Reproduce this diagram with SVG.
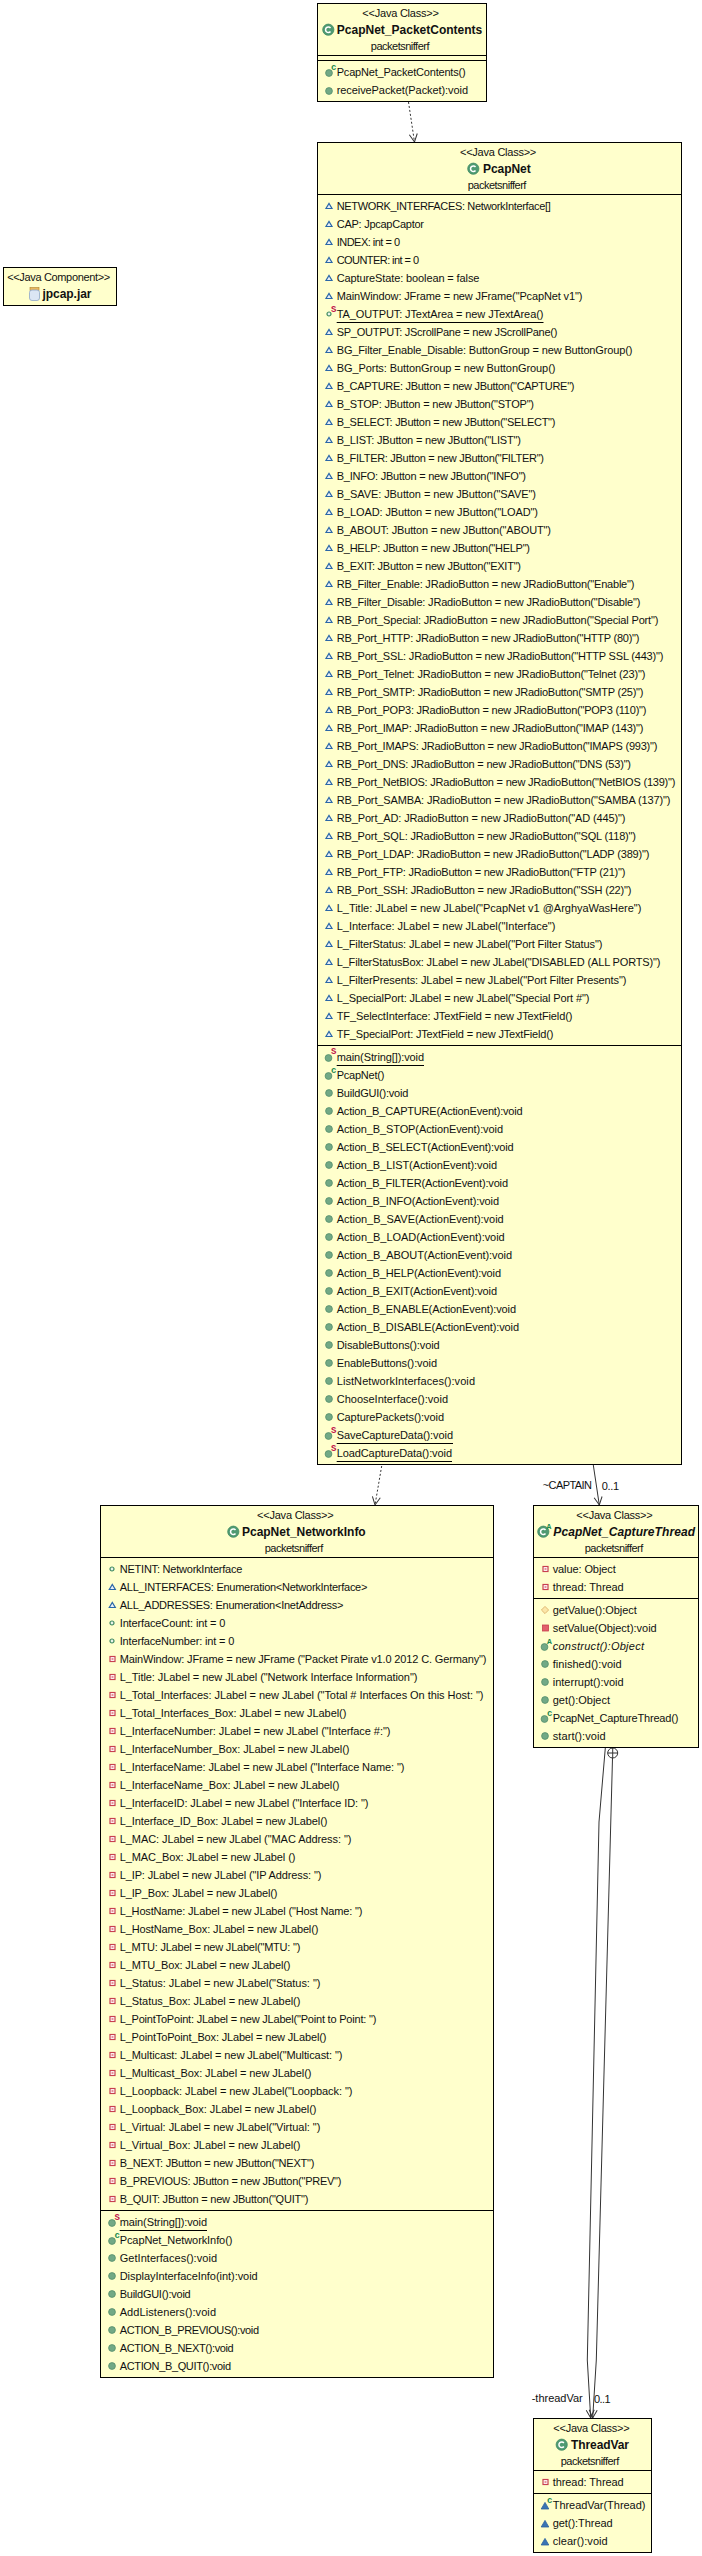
<svg xmlns="http://www.w3.org/2000/svg" width="702" height="2556" viewBox="0 0 702 2556">
<style>
text{font-family:"Liberation Sans",Arial,sans-serif;font-size:11px;fill:#111}
.n{font-size:12px;font-weight:bold}
.i{font-style:italic}
.b{fill:#ffffcc;stroke:#000;stroke-width:1}
.d{stroke:#000;stroke-width:1;fill:none}
.c{fill:none;stroke:#333;stroke-width:1}
.da{stroke-dasharray:2 2}
.sup{font-size:9px;font-family:"Liberation Mono",monospace;font-weight:bold}
</style>
<defs>
<marker id="arrow" markerUnits="userSpaceOnUse" markerWidth="12" markerHeight="12" viewBox="-10 -6 12 12" refX="0" refY="0" orient="auto"><path d="M-8,-4L0,0L-8,4" fill="none" stroke="#333" stroke-width="1"/></marker>
<g id="pkgF"><path d="M-3,2.5H3L0,-2.5Z" fill="#e8f0f8" stroke="#2b67a8" stroke-width="1.2"/></g>
<g id="pubF"><circle r="2" fill="#e8f4ea" stroke="#3f8a62" stroke-width="1.2"/></g>
<g id="priF"><rect x="-2.5" y="-2.5" width="5" height="5" fill="#fff" stroke="#c8404f" stroke-width="1.2"/><rect x="-1" y="-1" width="2" height="2" fill="#e8909a"/></g>
<g id="pubM"><circle r="3.4" fill="#72a986" stroke="#558f6c" stroke-width=".8"/></g>
<g id="pkgM"><path d="M-3.8,3H3.8L0,-3.6Z" fill="#3a74b4" stroke="#2b5f9e" stroke-width=".8"/></g>
<g id="proM"><path d="M-3.6,0L0,-3.6L3.6,0L0,3.6Z" fill="#fbe6a8" stroke="#d8a860" stroke-width=".8"/></g>
<g id="priM"><rect x="-3" y="-3" width="6" height="6" fill="#e2606c" stroke="#c8404f" stroke-width=".8"/></g>
<g id="cls"><circle r="5.6" fill="#4f9a72" stroke="#3f8a62" stroke-width=".8"/><path d="M2.2,-1.8A2.8,2.8 0 1 0 2.2,1.8" fill="none" stroke="#fff" stroke-width="1.5"/></g>
</defs>

<g id="connectors">
<path class="c da" d="M408.5,102L414.5,142" marker-end="url(#arrow)"/>
<path class="c da" d="M381.7,1466L375,1505" marker-end="url(#arrow)"/>
<path class="c" d="M593.3,1465L599.3,1505" marker-end="url(#arrow)"/>
<text x="542.7" y="1489" textLength="49.3">~CAPTAIN</text>
<text x="601.7" y="1490" textLength="17.3">0..1</text>
<path class="c" d="M605.3,1748L599,1822L587.3,2360L590.7,2418" marker-end="url(#arrow)"/>
<path class="c" d="M612.5,1758L596.3,2360L592.7,2418" marker-end="url(#arrow)"/>
<circle class="c" cx="612.7" cy="1753" r="5" fill="none"/>
<path class="c" d="M607.7,1753H617.7M612.7,1748V1758"/>
<text x="531.7" y="2402" textLength="51">-threadVar</text>
<text x="594" y="2403" textLength="16.7">0..1</text>
</g>

<g id="jpcap">
<rect class="b" x="3.5" y="267.5" width="113" height="38"/>
<text x="7.2" y="281" textLength="103">&lt;&lt;Java Component&gt;&gt;</text>
<rect x="30" y="287.5" width="9" height="3" fill="#e8b860" stroke="#b08030" stroke-width=".6"/>
<rect x="29.5" y="290" width="10" height="10.5" rx="2.5" fill="#dbe6f4" stroke="#8ea6c8" stroke-width=".8"/>
<text class="n" x="42.5" y="298" textLength="49">jpcap.jar</text>
</g>

<g id="PcapNet_PacketContents">
<rect class="b" x="317.5" y="3.5" width="169" height="98"/>
<path class="d" d="M317.5,55.5H486.5M317.5,60.5H486.5"/>
<text x="362.3" y="17" textLength="76.6">&lt;&lt;Java Class&gt;&gt;</text>
<use href="#cls" x="328.3" y="29.7"/>
<text class="n" x="336.8" y="34" textLength="145.5">PcapNet_PacketContents</text>
<text x="370.8" y="50" textLength="58.7">packetsnifferf</text>
<use href="#pubM" x="329" y="73"/><text class="sup" x="331" y="70" fill="#1a8a50" style="fill:#1a8a50">c</text>
<text x="336.7" y="76" textLength="129">PcapNet_PacketContents()</text>
<use href="#pubM" x="329" y="91"/>
<text x="336.7" y="94" textLength="131.3">receivePacket(Packet):void</text>
</g>

<g id="PcapNet">
<rect class="b" x="317.5" y="142.5" width="364" height="1322"/>
<path class="d" d="M317.5,194.5H681.5M317.5,1045.5H681.5"/>
<text x="460" y="156" textLength="76.3">&lt;&lt;Java Class&gt;&gt;</text>
<use href="#cls" x="473.3" y="168.7"/>
<text class="n" x="483" y="173" textLength="47.7">PcapNet</text>
<text x="467.7" y="189" textLength="58.7">packetsnifferf</text>
<g id="pn-icons">
<use href="#pkgF" x="329" y="206"/><use href="#pkgF" x="329" y="224"/><use href="#pkgF" x="329" y="242"/><use href="#pkgF" x="329" y="260"/><use href="#pkgF" x="329" y="278"/><use href="#pkgF" x="329" y="296"/><use href="#pubF" x="329" y="314"/><use href="#pkgF" x="329" y="332"/><use href="#pkgF" x="329" y="350"/><use href="#pkgF" x="329" y="368"/><use href="#pkgF" x="329" y="386"/><use href="#pkgF" x="329" y="404"/><use href="#pkgF" x="329" y="422"/><use href="#pkgF" x="329" y="440"/><use href="#pkgF" x="329" y="458"/><use href="#pkgF" x="329" y="476"/><use href="#pkgF" x="329" y="494"/><use href="#pkgF" x="329" y="512"/><use href="#pkgF" x="329" y="530"/><use href="#pkgF" x="329" y="548"/><use href="#pkgF" x="329" y="566"/><use href="#pkgF" x="329" y="584"/><use href="#pkgF" x="329" y="602"/><use href="#pkgF" x="329" y="620"/><use href="#pkgF" x="329" y="638"/><use href="#pkgF" x="329" y="656"/><use href="#pkgF" x="329" y="674"/><use href="#pkgF" x="329" y="692"/><use href="#pkgF" x="329" y="710"/><use href="#pkgF" x="329" y="728"/><use href="#pkgF" x="329" y="746"/><use href="#pkgF" x="329" y="764"/><use href="#pkgF" x="329" y="782"/><use href="#pkgF" x="329" y="800"/><use href="#pkgF" x="329" y="818"/><use href="#pkgF" x="329" y="836"/><use href="#pkgF" x="329" y="854"/><use href="#pkgF" x="329" y="872"/><use href="#pkgF" x="329" y="890"/><use href="#pkgF" x="329" y="908"/><use href="#pkgF" x="329" y="926"/><use href="#pkgF" x="329" y="944"/><use href="#pkgF" x="329" y="962"/><use href="#pkgF" x="329" y="980"/><use href="#pkgF" x="329" y="998"/><use href="#pkgF" x="329" y="1016"/><use href="#pkgF" x="329" y="1034"/>
<use href="#pubM" x="328.5" y="1058"/><use href="#pubM" x="328.5" y="1076"/><use href="#pubM" x="329" y="1093"/><use href="#pubM" x="329" y="1111"/><use href="#pubM" x="329" y="1129"/><use href="#pubM" x="329" y="1147"/><use href="#pubM" x="329" y="1165"/><use href="#pubM" x="329" y="1183"/><use href="#pubM" x="329" y="1201"/><use href="#pubM" x="329" y="1219"/><use href="#pubM" x="329" y="1237"/><use href="#pubM" x="329" y="1255"/><use href="#pubM" x="329" y="1273"/><use href="#pubM" x="329" y="1291"/><use href="#pubM" x="329" y="1309"/><use href="#pubM" x="329" y="1327"/><use href="#pubM" x="329" y="1345"/><use href="#pubM" x="329" y="1363"/><use href="#pubM" x="329" y="1381"/><use href="#pubM" x="329" y="1399"/><use href="#pubM" x="329" y="1417"/><use href="#pubM" x="328.5" y="1436"/><use href="#pubM" x="328.5" y="1454"/>
<text class="sup" x="331" y="312" style="fill:#c0104a">S</text><text class="sup" x="331" y="1054" style="fill:#c0104a">S</text><text class="sup" x="331" y="1073" style="fill:#1a8a50">c</text><text class="sup" x="331" y="1433" style="fill:#c0104a">S</text><text class="sup" x="331" y="1451" style="fill:#c0104a">S</text>
</g>
<path class="d" d="M336.7,322.5H543.5M336.7,1065.5H424M336.7,1443.5H453M336.7,1461.5H452"/>
<g id="pn-attrs">
<text x="336.7" y="210" textLength="214">NETWORK_INTERFACES: NetworkInterface[]</text>
<text x="336.7" y="228" textLength="87.3">CAP: JpcapCaptor</text>
<text x="336.7" y="246" textLength="63.3">INDEX: int = 0</text>
<text x="336.7" y="264" textLength="82.3">COUNTER: int = 0</text>
<text x="336.7" y="282" textLength="142.7">CaptureState: boolean = false</text>
<text x="336.7" y="300" textLength="245.7">MainWindow: JFrame = new JFrame("PcapNet v1")</text>
<text x="336.7" y="318" textLength="206.7">TA_OUTPUT: JTextArea = new JTextArea()</text>
<text x="336.7" y="336" textLength="220.7">SP_OUTPUT: JScrollPane = new JScrollPane()</text>
<text x="336.7" y="354" textLength="295.7">BG_Filter_Enable_Disable: ButtonGroup = new ButtonGroup()</text>
<text x="336.7" y="372" textLength="218.7">BG_Ports: ButtonGroup = new ButtonGroup()</text>
<text x="336.7" y="390" textLength="237.7">B_CAPTURE: JButton = new JButton("CAPTURE")</text>
<text x="336.7" y="408" textLength="197.3">B_STOP: JButton = new JButton("STOP")</text>
<text x="336.7" y="426" textLength="218.7">B_SELECT: JButton = new JButton("SELECT")</text>
<text x="336.7" y="444" textLength="184.3">B_LIST: JButton = new JButton("LIST")</text>
<text x="336.7" y="462" textLength="207.3">B_FILTER: JButton = new JButton("FILTER")</text>
<text x="336.7" y="480" textLength="189.3">B_INFO: JButton = new JButton("INFO")</text>
<text x="336.7" y="498" textLength="199.3">B_SAVE: JButton = new JButton("SAVE")</text>
<text x="336.7" y="516" textLength="201.3">B_LOAD: JButton = new JButton("LOAD")</text>
<text x="336.7" y="534" textLength="214.3">B_ABOUT: JButton = new JButton("ABOUT")</text>
<text x="336.7" y="552" textLength="193.3">B_HELP: JButton = new JButton("HELP")</text>
<text x="336.7" y="570" textLength="184.3">B_EXIT: JButton = new JButton("EXIT")</text>
<text x="336.7" y="588" textLength="297.7">RB_Filter_Enable: JRadioButton = new JRadioButton("Enable")</text>
<text x="336.7" y="606" textLength="303.7">RB_Filter_Disable: JRadioButton = new JRadioButton("Disable")</text>
<text x="336.7" y="624" textLength="321.7">RB_Port_Special: JRadioButton = new JRadioButton("Special Port")</text>
<text x="336.7" y="642" textLength="302.7">RB_Port_HTTP: JRadioButton = new JRadioButton("HTTP (80)")</text>
<text x="336.7" y="660" textLength="326.7">RB_Port_SSL: JRadioButton = new JRadioButton("HTTP SSL (443)")</text>
<text x="336.7" y="678" textLength="308.7">RB_Port_Telnet: JRadioButton = new JRadioButton("Telnet (23)")</text>
<text x="336.7" y="696" textLength="306.7">RB_Port_SMTP: JRadioButton = new JRadioButton("SMTP (25)")</text>
<text x="336.7" y="714" textLength="309.7">RB_Port_POP3: JRadioButton = new JRadioButton("POP3 (110)")</text>
<text x="336.7" y="732" textLength="306.7">RB_Port_IMAP: JRadioButton = new JRadioButton("IMAP (143)")</text>
<text x="336.7" y="750" textLength="320.7">RB_Port_IMAPS: JRadioButton = new JRadioButton("IMAPS (993)")</text>
<text x="336.7" y="768" textLength="294.3">RB_Port_DNS: JRadioButton = new JRadioButton("DNS (53)")</text>
<text x="336.7" y="786" textLength="338.7">RB_Port_NetBIOS: JRadioButton = new JRadioButton("NetBIOS (139)")</text>
<text x="336.7" y="804" textLength="333.7">RB_Port_SAMBA: JRadioButton = new JRadioButton("SAMBA (137)")</text>
<text x="336.7" y="822" textLength="288.7">RB_Port_AD: JRadioButton = new JRadioButton("AD (445)")</text>
<text x="336.7" y="840" textLength="299.3">RB_Port_SQL: JRadioButton = new JRadioButton("SQL (118)")</text>
<text x="336.7" y="858" textLength="312.7">RB_Port_LDAP: JRadioButton = new JRadioButton("LADP (389)")</text>
<text x="336.7" y="876" textLength="288.7">RB_Port_FTP: JRadioButton = new JRadioButton("FTP (21)")</text>
<text x="336.7" y="894" textLength="294.7">RB_Port_SSH: JRadioButton = new JRadioButton("SSH (22)")</text>
<text x="336.7" y="912" textLength="304.7">L_Title: JLabel = new JLabel("PcapNet v1  @ArghyaWasHere")</text>
<text x="336.7" y="930" textLength="218.7">L_Interface: JLabel = new JLabel("Interface")</text>
<text x="336.7" y="948" textLength="265.7">L_FilterStatus: JLabel = new JLabel("Port Filter Status")</text>
<text x="336.7" y="966" textLength="323.7">L_FilterStatusBox: JLabel = new JLabel("DISABLED (ALL PORTS)")</text>
<text x="336.7" y="984" textLength="289.7">L_FilterPresents: JLabel = new JLabel("Port Filter Presents")</text>
<text x="336.7" y="1002" textLength="252.7">L_SpecialPort: JLabel = new JLabel("Special Port #")</text>
<text x="336.7" y="1020" textLength="235.7">TF_SelectInterface: JTextField = new JTextField()</text>
<text x="336.7" y="1038" textLength="216.7">TF_SpecialPort: JTextField = new JTextField()</text>
</g>
<g id="pn-methods">
<text x="336.7" y="1061" textLength="87.3">main(String[]):void</text>
<text x="336.7" y="1079" textLength="47.7">PcapNet()</text>
<text x="336.7" y="1097" textLength="71.7">BuildGUI():void</text>
<text x="336.7" y="1115" textLength="186">Action_B_CAPTURE(ActionEvent):void</text>
<text x="336.7" y="1133" textLength="166.3">Action_B_STOP(ActionEvent):void</text>
<text x="336.7" y="1151" textLength="177">Action_B_SELECT(ActionEvent):void</text>
<text x="336.7" y="1169" textLength="160.3">Action_B_LIST(ActionEvent):void</text>
<text x="336.7" y="1187" textLength="171.3">Action_B_FILTER(ActionEvent):void</text>
<text x="336.7" y="1205" textLength="162.3">Action_B_INFO(ActionEvent):void</text>
<text x="336.7" y="1223" textLength="167">Action_B_SAVE(ActionEvent):void</text>
<text x="336.7" y="1241" textLength="168">Action_B_LOAD(ActionEvent):void</text>
<text x="336.7" y="1259" textLength="175.3">Action_B_ABOUT(ActionEvent):void</text>
<text x="336.7" y="1277" textLength="164.3">Action_B_HELP(ActionEvent):void</text>
<text x="336.7" y="1295" textLength="160.3">Action_B_EXIT(ActionEvent):void</text>
<text x="336.7" y="1313" textLength="179.3">Action_B_ENABLE(ActionEvent):void</text>
<text x="336.7" y="1331" textLength="182.3">Action_B_DISABLE(ActionEvent):void</text>
<text x="336.7" y="1349" textLength="103">DisableButtons():void</text>
<text x="336.7" y="1367" textLength="100.3">EnableButtons():void</text>
<text x="336.7" y="1385" textLength="138.3">ListNetworkInterfaces():void</text>
<text x="336.7" y="1403" textLength="111.3">ChooseInterface():void</text>
<text x="336.7" y="1421" textLength="107.3">CapturePackets():void</text>
<text x="336.7" y="1439" textLength="116.3">SaveCaptureData():void</text>
<text x="336.7" y="1457" textLength="115.3">LoadCaptureData():void</text>
</g>
</g>

<g id="PcapNet_NetworkInfo">
<rect class="b" x="100.5" y="1505.5" width="393" height="872"/>
<path class="d" d="M100.5,1557.5H493.5M100.5,2210.5H493.5"/>
<text x="257" y="1519" textLength="76.7">&lt;&lt;Java Class&gt;&gt;</text>
<use href="#cls" x="233.3" y="1531.7"/>
<text class="n" x="242" y="1536" textLength="123.7">PcapNet_NetworkInfo</text>
<text x="264.7" y="1552" textLength="58.6">packetsnifferf</text>
<g id="ni-icons">
<use href="#pubF" x="112" y="1569"/><use href="#pkgF" x="112.3" y="1587"/><use href="#pkgF" x="112.3" y="1605"/><use href="#pubF" x="112" y="1623"/><use href="#pubF" x="112" y="1641"/>
<use href="#priF" x="112.5" y="1659"/><use href="#priF" x="112.5" y="1677"/><use href="#priF" x="112.5" y="1695"/><use href="#priF" x="112.5" y="1713"/><use href="#priF" x="112.5" y="1731"/><use href="#priF" x="112.5" y="1749"/><use href="#priF" x="112.5" y="1767"/><use href="#priF" x="112.5" y="1785"/><use href="#priF" x="112.5" y="1803"/><use href="#priF" x="112.5" y="1821"/><use href="#priF" x="112.5" y="1839"/><use href="#priF" x="112.5" y="1857"/><use href="#priF" x="112.5" y="1875"/><use href="#priF" x="112.5" y="1893"/><use href="#priF" x="112.5" y="1911"/><use href="#priF" x="112.5" y="1929"/><use href="#priF" x="112.5" y="1947"/><use href="#priF" x="112.5" y="1965"/><use href="#priF" x="112.5" y="1983"/><use href="#priF" x="112.5" y="2001"/><use href="#priF" x="112.5" y="2019"/><use href="#priF" x="112.5" y="2037"/><use href="#priF" x="112.5" y="2055"/><use href="#priF" x="112.5" y="2073"/><use href="#priF" x="112.5" y="2091"/><use href="#priF" x="112.5" y="2109"/><use href="#priF" x="112.5" y="2127"/><use href="#priF" x="112.5" y="2145"/><use href="#priF" x="112.5" y="2163"/><use href="#priF" x="112.5" y="2181"/><use href="#priF" x="112.5" y="2199"/>
<use href="#pubM" x="112" y="2223"/><use href="#pubM" x="112" y="2241"/><use href="#pubM" x="112" y="2258"/><use href="#pubM" x="112" y="2276"/><use href="#pubM" x="112" y="2294"/><use href="#pubM" x="112" y="2312"/><use href="#pubM" x="112" y="2330"/><use href="#pubM" x="112" y="2348"/><use href="#pubM" x="112" y="2366"/>
<text class="sup" x="114.5" y="2220" style="fill:#c0104a">S</text><text class="sup" x="114.5" y="2238" style="fill:#1a8a50">c</text>
</g>
<path class="d" d="M119.7,2230.5H207"/>
<g id="ni-attrs">
<text x="119.7" y="1573" textLength="122.7">NETINT: NetworkInterface</text>
<text x="119.7" y="1591" textLength="247.7">ALL_INTERFACES: Enumeration&lt;NetworkInterface&gt;</text>
<text x="119.7" y="1609" textLength="223.7">ALL_ADDRESSES: Enumeration&lt;InetAddress&gt;</text>
<text x="119.7" y="1627" textLength="105.7">InterfaceCount: int = 0</text>
<text x="119.7" y="1645" textLength="114.7">InterfaceNumber: int = 0</text>
<text x="119.7" y="1663" textLength="366.7">MainWindow: JFrame = new JFrame ("Packet Pirate v1.0 2012 C. Germany")</text>
<text x="119.7" y="1681" textLength="297.7">L_Title: JLabel = new JLabel ("Network Interface Information")</text>
<text x="119.7" y="1699" textLength="363.7">L_Total_Interfaces: JLabel = new JLabel ("Total # Interfaces On this Host: ")</text>
<text x="119.7" y="1717" textLength="226.7">L_Total_Interfaces_Box: JLabel = new JLabel()</text>
<text x="119.7" y="1735" textLength="270.7">L_InterfaceNumber: JLabel = new JLabel ("Interface #:")</text>
<text x="119.7" y="1753" textLength="229.7">L_InterfaceNumber_Box: JLabel = new JLabel()</text>
<text x="119.7" y="1771" textLength="284.7">L_InterfaceName: JLabel = new JLabel ("Interface Name: ")</text>
<text x="119.7" y="1789" textLength="219.7">L_InterfaceName_Box: JLabel = new JLabel()</text>
<text x="119.7" y="1807" textLength="248.7">L_InterfaceID: JLabel = new JLabel ("Interface ID: ")</text>
<text x="119.7" y="1825" textLength="207.7">L_Interface_ID_Box: JLabel = new JLabel()</text>
<text x="119.7" y="1843" textLength="231.7">L_MAC: JLabel = new JLabel ("MAC Address: ")</text>
<text x="119.7" y="1861" textLength="175.7">L_MAC_Box: JLabel = new JLabel ()</text>
<text x="119.7" y="1879" textLength="201.7">L_IP: JLabel = new JLabel ("IP Address: ")</text>
<text x="119.7" y="1897" textLength="157.7">L_IP_Box: JLabel = new JLabel()</text>
<text x="119.7" y="1915" textLength="242.7">L_HostName: JLabel = new JLabel ("Host Name: ")</text>
<text x="119.7" y="1933" textLength="198.7">L_HostName_Box: JLabel = new JLabel()</text>
<text x="119.7" y="1951" textLength="180.7">L_MTU: JLabel = new JLabel("MTU: ")</text>
<text x="119.7" y="1969" textLength="170.7">L_MTU_Box: JLabel = new JLabel()</text>
<text x="119.7" y="1987" textLength="200.7">L_Status: JLabel = new JLabel("Status: ")</text>
<text x="119.7" y="2005" textLength="180.7">L_Status_Box: JLabel = new JLabel()</text>
<text x="119.7" y="2023" textLength="256.7">L_PointToPoint: JLabel = new JLabel("Point to Point: ")</text>
<text x="119.7" y="2041" textLength="206.7">L_PointToPoint_Box: JLabel = new JLabel()</text>
<text x="119.7" y="2059" textLength="222.7">L_Multicast: JLabel = new JLabel("Multicast: ")</text>
<text x="119.7" y="2077" textLength="191.7">L_Multicast_Box: JLabel = new JLabel()</text>
<text x="119.7" y="2095" textLength="232.7">L_Loopback: JLabel = new JLabel("Loopback: ")</text>
<text x="119.7" y="2113" textLength="196.7">L_Loopback_Box: JLabel = new JLabel()</text>
<text x="119.7" y="2131" textLength="200.7">L_Virtual: JLabel = new JLabel("Virtual: ")</text>
<text x="119.7" y="2149" textLength="180.7">L_Virtual_Box: JLabel = new JLabel()</text>
<text x="119.7" y="2167" textLength="194.7">B_NEXT: JButton = new JButton("NEXT")</text>
<text x="119.7" y="2185" textLength="221.7">B_PREVIOUS: JButton = new JButton("PREV")</text>
<text x="119.7" y="2203" textLength="188.7">B_QUIT: JButton = new JButton("QUIT")</text>
</g>
<g id="ni-methods">
<text x="119.7" y="2226" textLength="87.3">main(String[]):void</text>
<text x="119.7" y="2244" textLength="112.7">PcapNet_NetworkInfo()</text>
<text x="119.7" y="2262" textLength="97.3">GetInterfaces():void</text>
<text x="119.7" y="2280" textLength="138">DisplayInterfaceInfo(int):void</text>
<text x="119.7" y="2298" textLength="71">BuildGUI():void</text>
<text x="119.7" y="2316" textLength="96.3">AddListeners():void</text>
<text x="119.7" y="2334" textLength="139.3">ACTION_B_PREVIOUS():void</text>
<text x="119.7" y="2352" textLength="114">ACTION_B_NEXT():void</text>
<text x="119.7" y="2370" textLength="111.3">ACTION_B_QUIT():void</text>
</g>
</g>

<g id="PcapNet_CaptureThread">
<rect class="b" x="533.5" y="1505.5" width="165" height="242"/>
<path class="d" d="M533.5,1557.5H698.5M533.5,1598.5H698.5"/>
<text x="576.3" y="1519" textLength="76.4">&lt;&lt;Java Class&gt;&gt;</text>
<use href="#cls" x="543.3" y="1531.7"/>
<text class="sup" x="546.5" y="1529" style="fill:#1a8a50;font-size:8px">A</text>
<text class="n i" x="553.3" y="1536" textLength="141.7">PcapNet_CaptureThread</text>
<text x="584.7" y="1552" textLength="58.6">packetsnifferf</text>
<use href="#priF" x="545.5" y="1569"/><use href="#priF" x="545.5" y="1587"/>
<text x="552.7" y="1573" textLength="63">value: Object</text>
<text x="552.7" y="1591" textLength="71">thread: Thread</text>
<use href="#proM" x="545" y="1610"/><use href="#priM" x="545.5" y="1628"/><use href="#pubM" x="544.5" y="1647"/><use href="#pubM" x="545" y="1664"/><use href="#pubM" x="545" y="1682"/><use href="#pubM" x="545" y="1700"/><use href="#pubM" x="544.5" y="1719"/><use href="#pubM" x="545" y="1736"/>
<text class="sup" x="547" y="1644" style="fill:#1a8a50;font-size:8px">A</text>
<text class="sup" x="547" y="1716" style="fill:#1a8a50">c</text>
<text x="552.7" y="1614" textLength="84">getValue():Object</text>
<text x="552.7" y="1632" textLength="104">setValue(Object):void</text>
<text class="i" x="552.7" y="1650" textLength="91.3">construct():Object</text>
<text x="552.7" y="1668" textLength="69">finished():void</text>
<text x="552.7" y="1686" textLength="71">interrupt():void</text>
<text x="552.7" y="1704" textLength="57.3">get():Object</text>
<text x="552.7" y="1722" textLength="125.7">PcapNet_CaptureThread()</text>
<text x="552.7" y="1740" textLength="53">start():void</text>
</g>

<g id="ThreadVar">
<rect class="b" x="533.5" y="2418.5" width="118" height="134"/>
<path class="d" d="M533.5,2470.5H651.5M533.5,2493.5H651.5"/>
<text x="553.3" y="2432" textLength="76.4">&lt;&lt;Java Class&gt;&gt;</text>
<use href="#cls" x="561.7" y="2444.7"/>
<text class="n" x="571" y="2449" textLength="58">ThreadVar</text>
<text x="560.7" y="2465" textLength="58.6">packetsnifferf</text>
<use href="#priF" x="545.5" y="2482"/>
<text x="552.7" y="2486" textLength="71">thread: Thread</text>
<use href="#pkgM" x="545" y="2506"/><use href="#pkgM" x="545" y="2524"/><use href="#pkgM" x="545" y="2542"/>
<text class="sup" x="547" y="2503" style="fill:#1a8a50">c</text>
<text x="552.7" y="2509" textLength="92.7">ThreadVar(Thread)</text>
<text x="552.7" y="2527" textLength="60">get():Thread</text>
<text x="552.7" y="2545" textLength="55">clear():void</text>
</g>
</svg>
